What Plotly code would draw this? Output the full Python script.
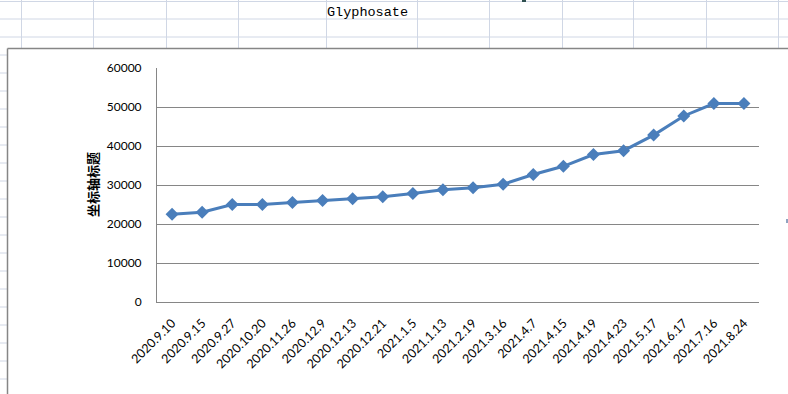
import plotly.graph_objects as go

categories = ["2020.9.10", "2020.9.15", "2020.9.27", "2020.10.20", "2020.11.26",
              "2020.12.9", "2020.12.13", "2020.12.21", "2021.1.5", "2021.1.13",
              "2021.2.19", "2021.3.16", "2021.4.7", "2021.4.15", "2021.4.19",
              "2021.4.23", "2021.5.17", "2021.6.17", "2021.7.16", "2021.8.24"]
prices = [22500, 23000, 25000, 25000, 25500,
          26000, 26500, 27000, 27800, 28800,
          29300, 30200, 32700, 34800, 37800,
          38800, 42800, 47700, 50900, 50900]
y_ticks = [0, 10000, 20000, 30000, 40000, 50000, 60000]

W, H = 788, 394
L, R, T, B = 157, 759, 68, 302  # plot area in pixels


def px(x):
    return (x - L) / (R - L)


def py(y):
    return (B - y) / (B - T)


SHEET = "#d0d7e5"
BORDER = "#868686"

fig = go.Figure()
fig.add_trace(go.Scatter(
    x=categories, y=prices, mode="lines+markers",
    line=dict(color="#4a7ebb", width=3),
    marker=dict(symbol="diamond", size=10, color="#4a7ebb"),
    showlegend=False, cliponaxis=False,
))

shapes = []
# spreadsheet grid above the chart
for xv in [21, 93, 166, 238, 326, 417, 489, 562, 633, 706, 778]:
    shapes.append(dict(type="line", xref="paper", yref="paper",
                       x0=px(xv + 0.5), x1=px(xv + 0.5), y0=py(0), y1=py(48),
                       line=dict(color=SHEET, width=1)))
for yv in [1.5, 19, 37]:
    shapes.append(dict(type="line", xref="paper", yref="paper",
                       x0=px(0), x1=px(W), y0=py(yv), y1=py(yv),
                       line=dict(color=SHEET, width=1)))
yv = 55
while yv < H:
    shapes.append(dict(type="line", xref="paper", yref="paper",
                       x0=px(0), x1=px(7), y0=py(yv), y1=py(yv),
                       line=dict(color=SHEET, width=1)))
    yv += 18
# chart area border
shapes.append(dict(type="line", xref="paper", yref="paper",
                   x0=px(7.5), x1=px(W), y0=py(48.5), y1=py(48.5),
                   line=dict(color=BORDER, width=1.5)))
shapes.append(dict(type="line", xref="paper", yref="paper",
                   x0=px(7.5), x1=px(7.5), y0=py(48.5), y1=py(H),
                   line=dict(color=BORDER, width=1.5)))
# small marks from the sheet
shapes.append(dict(type="rect", xref="paper", yref="paper",
                   x0=px(522), x1=px(526), y0=py(0), y1=py(2),
                   line=dict(width=0), fillcolor="#2f4f4f"))
shapes.append(dict(type="rect", xref="paper", yref="paper",
                   x0=px(786), x1=px(788), y0=py(219), y1=py(223),
                   line=dict(width=0), fillcolor="#8fa3c0"))

annotations = [
    dict(text="Glyphosate", xref="paper", yref="paper", x=px(367.5), y=py(12.5),
         xanchor="center", yanchor="middle", showarrow=False,
         font=dict(family="Liberation Mono", size=13.5, color="#000000")),
    dict(text="<b>坐标轴标题</b>", xref="paper", yref="paper", x=px(92), y=py(185),
         xanchor="center", yanchor="middle", showarrow=False, textangle=-90,
         font=dict(family="Noto Sans CJK SC", size=13, color="#000000")),
]

fig.update_layout(
    width=W, height=H,
    margin=dict(l=L, r=W - R, t=T, b=H - B, pad=0),
    paper_bgcolor="white", plot_bgcolor="white",
    font=dict(family="Lato", size=12, color="#000000"),
    shapes=shapes, annotations=annotations,
    xaxis=dict(type="category", categoryorder="array", categoryarray=categories,
               range=[-0.5, len(categories) - 0.5], automargin=False,
               tickangle=-45, showgrid=False, showline=True, linecolor=BORDER,
               linewidth=1, ticks="", zeroline=False, ticklabelstandoff=8,
               tickfont=dict(family="Lato", size=12.5, color="#000000")),
    yaxis=dict(range=[0, 60000], tickvals=y_ticks, ticktext=[str(v) for v in y_ticks],
               automargin=False,
               showgrid=True, gridcolor=BORDER, gridwidth=1,
               showline=True, linecolor=BORDER, linewidth=1, zeroline=False,
               ticks="", ticklabelstandoff=12,
               tickfont=dict(family="Lato", size=12, color="#000000")),
)

fig.write_html("out.html", config={"displayModeBar": False},
               post_script="document.body.style.margin='0';document.body.style.overflow='hidden';")
